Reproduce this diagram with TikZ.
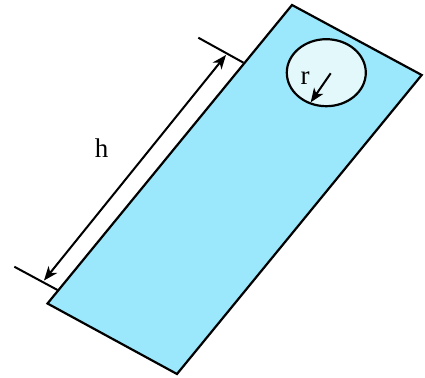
\documentclass[tikz,border=0pt]{standalone}
\usepackage{fontspec}
\setmainfont{Liberation Serif}
\usetikzlibrary{arrows.meta,shapes.geometric}
\definecolor{plate}{RGB}{155,232,252}
\definecolor{hole}{RGB}{227,248,251}
\tikzset{
  edge/.style={line width=2.2pt, line join=miter},
  dimline/.style={line width=2pt},
  tip/.tip={Stealth[length=14pt,width=11pt,inset=4pt]},
  dimarrow/.style={line width=2pt, -tip},
  lbl/.style={inner sep=0pt, font=\fontsize{27}{30}\selectfont}
}
\begin{document}
\begin{tikzpicture}[x=1pt,y=-1pt]
\useasboundingbox (0,0) rectangle (425,377);
% plate corners
\coordinate (T) at (292,5);
\coordinate (R) at (421.7,75);
\coordinate (B) at (177,374);
\coordinate (L) at (47.5,303.5);
\draw[edge, fill=plate] (T) -- (R) -- (B) -- (L) -- cycle;
% hole
\node[ellipse, draw, line width=2.2pt, fill=hole, inner sep=0pt,
      minimum width=79pt, minimum height=67pt] (holeC) at (326.3,72.7) {};
\coordinate (rs) at (330.7,73.3);
\coordinate (re) at (310.7,102.3);
\draw[dimarrow] (rs) -- (re);
\node[lbl] (r) at (305,78) {r};
% extension lines
\coordinate (u1) at (198.3,37.7);
\coordinate (u2) at (243.5,62.7);
\coordinate (l1) at (14.3,266.7);
\coordinate (l2) at (57.5,290);
\draw[dimline] (u1) -- (u2);
\draw[dimline] (l1) -- (l2);
% dimension arrows
\coordinate (dl) at (44,280.5);
\coordinate (du) at (226,55);
\draw[dimline, tip-tip] (dl) -- (du);
\node[lbl] (h) at (101.7,148.5) {h};
\end{tikzpicture}
\end{document}
